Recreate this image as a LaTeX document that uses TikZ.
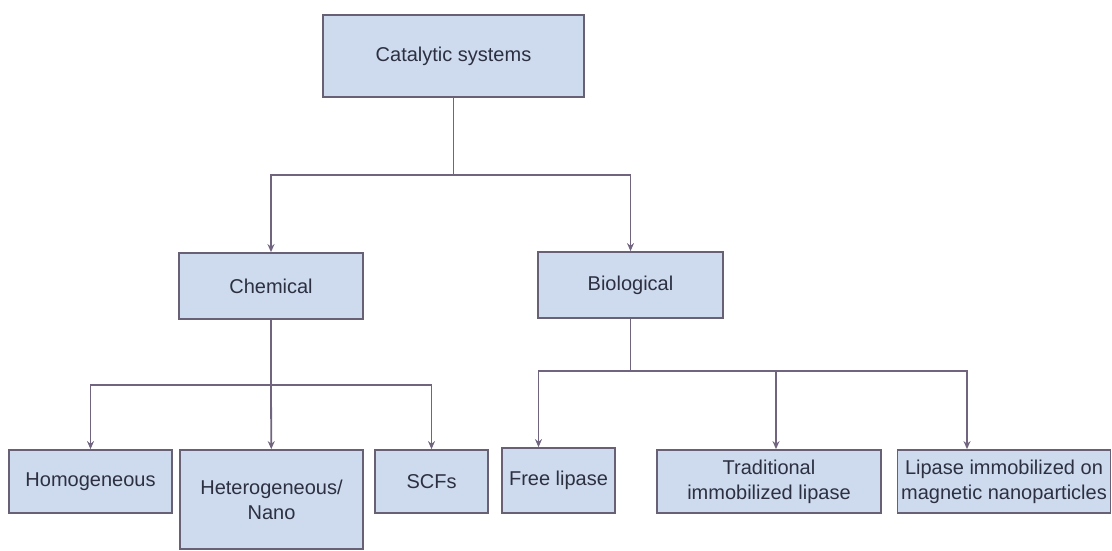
\documentclass[tikz,border=0pt]{standalone}
\usepackage{fontspec}
\setmainfont{Liberation Sans}
\usetikzlibrary{positioning,arrows.meta}
\definecolor{boxfill}{RGB}{206,219,239}
\definecolor{boxline}{RGB}{104,96,116}
\definecolor{linkcol}{RGB}{112,100,126}
\definecolor{labelcol}{RGB}{44,48,64}
\tikzstyle{block} = [draw=boxline, line width=1.8pt, fill=boxfill, rectangle, inner sep=2pt, minimum height=63pt, text=labelcol, font=\fontsize{20}{25}\selectfont, align=center]
\tikzstyle{junction} = [coordinate]
\tikzset{link/.style={draw=linkcol, line width=1.8pt},
    feed/.style={link, -{Stealth[length=8pt,width=7pt]}}
}

\begin{document}
\begin{tikzpicture}[x=1pt, y=-1pt]
        \useasboundingbox (0,0) rectangle (1112,550);

        \node [block, minimum width=261pt, minimum height=82pt] (cat) at (453.5,56) {Catalytic systems};
        \node [block, minimum width=184pt, minimum height=66pt] (chem) at (271,286) {Chemical};
        \node [block, minimum width=185pt, minimum height=66pt] (bio) at (630.5,285) {Biological};

        \node [block, minimum width=163pt] (homo) at (90.5,481.5) {Homogeneous};
        \node [block, minimum width=183pt, minimum height=99pt] (hetero) at (271.5,499.5) {Heterogeneous/\\Nano};
        \node [block, minimum width=113pt] (scf) at (431.5,481.5) {SCFs};
        \node [block, minimum width=113pt, minimum height=65pt] (free) at (558.5,480.5) {Free lipase};
        \node [block, minimum width=224pt] (trad) at (769,481.5) {Traditional\\immobilized lipase};
        \node [block, minimum width=213pt] (magnetic) at (1004,481.5) {Lipase immobilized on\\magnetic nanoparticles};

        % branch points
        \node [junction] (split) at (453.5,175) {};
        \node [junction] (splitchem) at (271,385) {};
        \node [junction] (splitbio) at (630.5,371) {};

        \draw [link] (cat) -- (split);
        \draw [feed] (split) -| (chem);
        \draw [feed] (split) -| (bio);

        \draw [link] (chem) -- (splitchem);
        \draw [feed] (splitchem) -| (homo);
        \draw [feed] (splitchem) -- (hetero);
        \draw [feed] (splitchem) -| (scf);

        \draw [link] (bio) -- (splitbio);
        \draw [feed] (splitbio) -| ([xshift=-20pt]free.north);
        \draw [feed] (splitbio) -| ([xshift=7pt]trad.north);
        \draw [feed] (splitbio) -| ([xshift=-37pt]magnetic.north);
    \end{tikzpicture}
\end{document}
